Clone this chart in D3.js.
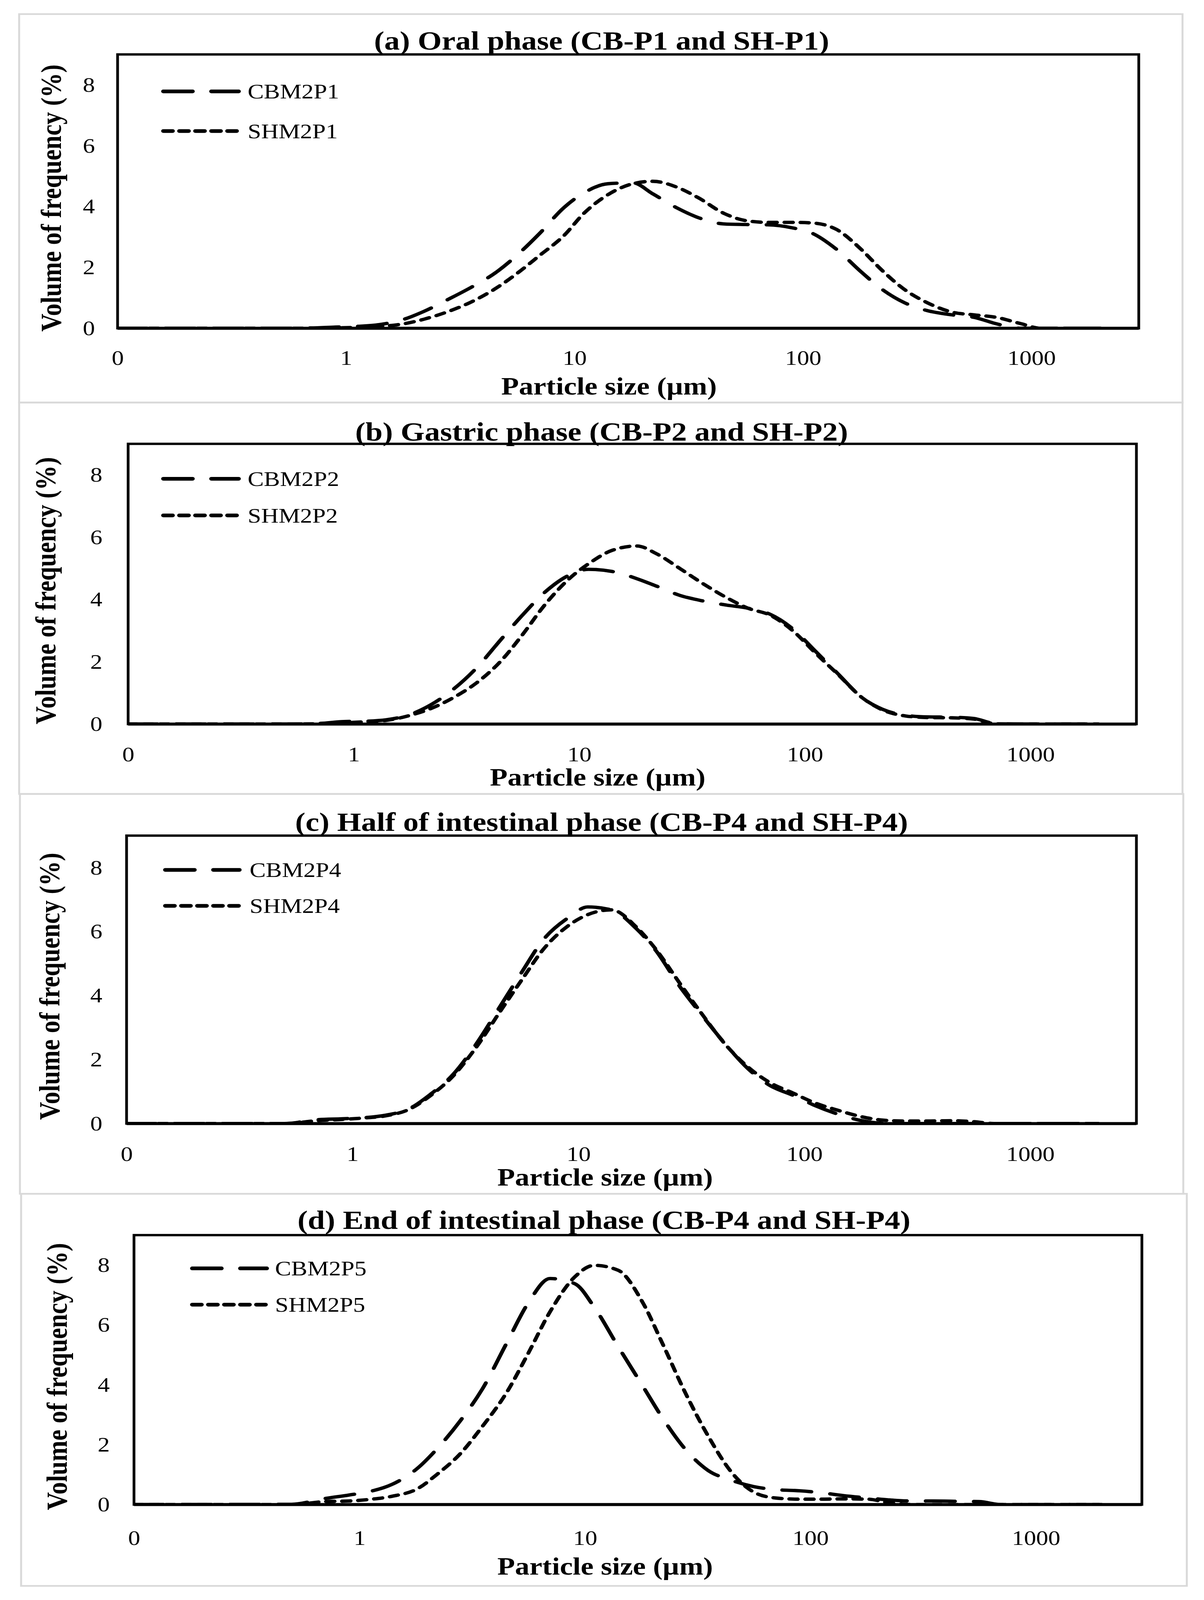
<!DOCTYPE html>
<html><head><meta charset="utf-8">
<script src="https://cdn.jsdelivr.net/npm/d3@7/dist/d3.min.js"></script>
<style>html,body{margin:0;padding:0;background:#fff;overflow:hidden} svg{display:block}</style>
</head><body>
<svg id="chart"></svg>
<script>
// ---------- DATA ----------
const sizes = [0.1, 0.5, 0.7, 0.9, 1.1, 1.4, 1.8, 2.2, 2.8, 3.5, 4.5, 5.6, 7, 9, 11, 14, 18, 22, 28, 35, 45, 56, 70, 90, 110, 140, 180, 220, 280, 350, 450, 560, 700, 900, 1100, 1400, 2000];

const cbP1 = [0,0,0.01,0.04,0.06,0.12,0.3,0.56,0.95,1.33,1.82,2.4,3.1,3.97,4.45,4.75,4.78,4.42,3.96,3.63,3.43,3.41,3.40,3.30,3.12,2.6,1.85,1.3,0.83,0.58,0.44,0.36,0.15,0,0,0,0];
const shP1 = [0,0,0,0.01,0.03,0.06,0.15,0.3,0.55,0.85,1.3,1.8,2.38,3.05,3.78,4.39,4.75,4.83,4.64,4.28,3.78,3.54,3.48,3.48,3.46,3.25,2.59,1.93,1.26,0.84,0.53,0.44,0.36,0.15,0,0,0];
const cbP2 = [0,0,0.02,0.08,0.09,0.14,0.32,0.62,1.15,1.8,2.72,3.5,4.22,4.78,4.97,4.9,4.67,4.43,4.13,3.96,3.82,3.72,3.53,3.01,2.38,1.62,0.84,0.48,0.28,0.23,0.22,0.18,0.02,0,0,0,0];
const shP2 = [0,0,0.01,0.04,0.07,0.12,0.29,0.5,0.87,1.32,2.03,2.87,3.81,4.66,5.15,5.58,5.72,5.47,4.99,4.53,4.06,3.72,3.5,2.95,2.32,1.6,0.84,0.46,0.26,0.21,0.2,0.16,0.01,0,0,0,0];
const cbP4 = [0,0,0.12,0.15,0.18,0.26,0.48,0.9,1.55,2.45,3.66,4.72,5.75,6.43,6.77,6.68,6.1,5.41,4.3,3.41,2.46,1.73,1.2,0.87,0.58,0.3,0.09,0.01,0,0,0,0,0,0,0,0,0];
const shP4 = [0,0,0.09,0.13,0.17,0.24,0.46,0.86,1.5,2.35,3.5,4.48,5.45,6.18,6.53,6.68,6.15,5.45,4.4,3.45,2.45,1.78,1.29,0.94,0.66,0.42,0.21,0.11,0.08,0.08,0.09,0.06,0,0,0,0,0];
const cbP5 = [0,0.01,0.2,0.32,0.43,0.68,1.2,1.85,2.8,3.85,5.4,6.73,7.55,7.38,6.59,5.29,3.97,2.91,1.83,1.15,0.8,0.6,0.5,0.46,0.4,0.3,0.22,0.16,0.12,0.12,0.11,0.1,0,0,0,0,0];
const shP5 = [0,0,0.1,0.12,0.17,0.28,0.52,1.0,1.7,2.6,3.75,5.05,6.44,7.6,7.99,7.83,6.76,5.4,3.7,2.32,1.05,0.42,0.22,0.18,0.18,0.19,0.18,0.07,0,0,0,0,0,0,0,0,0];

const cbNames = ["CBM2P1", "CBM2P2", "CBM2P4", "CBM2P5"];
const shNames = ["SHM2P1", "SHM2P2", "SHM2P4", "SHM2P5"];
const panelTitles = [
  "(a) Oral phase (CB-P1 and SH-P1)",
  "(b) Gastric phase (CB-P2 and SH-P2)",
  "(c) Half of intestinal phase (CB-P4 and SH-P4)",
  "(d) End of intestinal phase (CB-P4 and SH-P4)"
];
const xTickValues = [0.1, 1, 10, 100, 1000];
const xTickLabels = ["0", "1", "10", "100", "1000"];
const yTickValues = [0, 2, 4, 6, 8];
const xDomain = [0.1, 2950];
const yDomain = [0, 9];
const xAxisTitle = "Particle size (\u00B5m)";
const yAxisTitle = "Volume of frequency (%)";

// ---------- LAYOUT (in reference pixel space 3082 x 4762) ----------
const W = 3082, H = 4762;
const layouts = [
  {box:[49,42,3027,1198],   plot:[301,162,2915,977],   titleX:1540, titleY:122,  xLabC:1065, xTitleX:1559, xTitleC:1152, yLabEnd:243, yTitleX:132, legY:[272,390],   legX:[418,611,634]},
  {box:[49,1198,3027,2363], plot:[328,1321,2909,2155], titleX:1540, titleY:1285, xLabC:2245, xTitleX:1530, xTitleC:2316, yLabEnd:262, yTitleX:118, legY:[1425,1534], legX:[418,611,634]},
  {box:[51,2363,3029,3553], plot:[324,2487,2909,3344], titleX:1540, titleY:2447, xLabC:3434, xTitleX:1549, xTitleC:3507, yLabEnd:262, yTitleX:128, legY:[2589,2696], legX:[423,613,639]},
  {box:[54,3553,3038,4720], plot:[343,3676,2923,4478], titleX:1546, titleY:3631, xLabC:4577, xTitleX:1549, xTitleC:4665, yLabEnd:281, yTitleX:147, legY:[3775,3883], legX:[492,683,704]}
];

const FONT = "'Liberation Serif','Times New Roman',serif";
const TICK_FS = 62, TITLE_FS = 79, AXT_FS = 74, LEG_FS = 62;
const LINE_W = 10;
const DASH_LONG = "75 48", DASH_SHORT = "22 19";
const LEG_DASH_LONG = "75 48", LEG_DASH_SHORT = "24 17";

const panels = [
  {title: panelTitles[0], names:[cbNames[0], shNames[0]], series:[cbP1, shP1]},
  {title: panelTitles[1], names:[cbNames[1], shNames[1]], series:[cbP2, shP2]},
  {title: panelTitles[2], names:[cbNames[2], shNames[2]], series:[cbP4, shP4]},
  {title: panelTitles[3], names:[cbNames[3], shNames[3]], series:[cbP5, shP5]}
];
const dashes = [DASH_LONG, DASH_SHORT];
const legDashes = [LEG_DASH_LONG, LEG_DASH_SHORT];

// fit the whole figure into the visible viewport
const vw = window.innerWidth || W, vh = window.innerHeight || H;
const svg = d3.select("#chart")
  .attr("width", vw).attr("height", vh)
  .attr("viewBox", `0 0 ${W} ${H}`)
  .attr("preserveAspectRatio", "none");
svg.append("rect").attr("width", W).attr("height", H).attr("fill", "#fff");

panels.forEach((p, i) => {
  const L = layouts[i];
  const [pl, pt, pr, pb] = L.plot;
  const g = svg.append("g");

  // panel border
  g.append("rect")
    .attr("x", L.box[0]).attr("y", L.box[1])
    .attr("width", L.box[2]-L.box[0]).attr("height", L.box[3]-L.box[1])
    .attr("fill","none").attr("stroke","#d9d9d9").attr("stroke-width",5);

  const x = d3.scaleLog().domain(xDomain).range([pl, pr]);
  const y = d3.scaleLinear().domain(yDomain).range([pb, pt]);

  const cid = "clip" + i;
  g.append("clipPath").attr("id", cid).append("rect")
    .attr("x", pl).attr("y", pt).attr("width", pr-pl).attr("height", pb-pt+2);

  // frame
  g.append("rect").attr("x", pl).attr("y", pt).attr("width", pr-pl).attr("height", pb-pt)
    .attr("fill","none").attr("stroke","#000").attr("stroke-width",7);
  g.append("line").attr("x1", pl).attr("x2", pr).attr("y1", y(0)).attr("y2", y(0))
    .attr("stroke","#000").attr("stroke-width",9);

  // curves
  const line = d3.line().x(d => x(d[0])).y(d => y(d[1])).curve(d3.curveMonotoneX);
  p.series.forEach((vals, k) => {
    const pts = sizes.map((s, j) => [s, vals[j]]);
    g.append("path").attr("d", line(pts))
      .attr("clip-path", `url(#${cid})`)
      .attr("fill","none").attr("stroke","#000").attr("stroke-width",LINE_W)
      .attr("stroke-dasharray", dashes[k]).attr("stroke-linecap","round");
  });

  // x axis
  const xAxis = d3.axisBottom(x).tickValues(xTickValues)
    .tickFormat((d, j) => xTickLabels[j]).tickSize(0)
    .tickPadding(L.xLabC - pb - 23);
  const gx = g.append("g").attr("transform", `translate(0,${pb})`).call(xAxis);
  gx.select(".domain").remove();
  gx.attr("font-family", FONT).attr("font-size", TICK_FS);
  gx.selectAll("text").attr("fill","#000");

  // y axis
  const yAxis = d3.axisLeft(y).tickValues(yTickValues).tickSize(0)
    .tickPadding(pl - L.yLabEnd);
  const gy = g.append("g").attr("transform", `translate(${pl},0)`).call(yAxis);
  gy.select(".domain").remove();
  gy.attr("font-family", FONT).attr("font-size", TICK_FS);
  gy.selectAll("text").attr("fill","#000");

  // title
  g.append("text").attr("x", L.titleX).attr("y", L.titleY + 0.33*TITLE_FS)
    .attr("text-anchor","middle").attr("font-family",FONT).attr("font-weight","bold")
    .attr("font-size",TITLE_FS).attr("fill","#000").text(p.title);

  // x axis title
  g.append("text").attr("x", L.xTitleX).attr("y", L.xTitleC + 22)
    .attr("text-anchor","middle").attr("font-family",FONT).attr("font-weight","bold")
    .attr("font-size",AXT_FS).attr("fill","#000").text(xAxisTitle);

  // y axis title
  const yc = (pt + pb)/2 + 20;
  g.append("text").attr("transform", `translate(${L.yTitleX + 24},${yc}) rotate(-90)`)
    .attr("text-anchor","middle").attr("font-family",FONT).attr("font-weight","bold")
    .attr("font-size",AXT_FS).attr("fill","#000").text(yAxisTitle);

  // legend
  p.names.forEach((nm, k) => {
    const ly = L.legY[k];
    g.append("line").attr("x1", L.legX[0]).attr("x2", L.legX[1]).attr("y1", ly).attr("y2", ly)
      .attr("stroke","#000").attr("stroke-width",LINE_W+1)
      .attr("stroke-dasharray", legDashes[k]).attr("stroke-linecap","round");
    g.append("text").attr("x", L.legX[2]).attr("y", ly + 21)
      .attr("font-family",FONT).attr("font-size",LEG_FS).attr("fill","#000").text(nm);
  });
});
</script>
</body></html>
